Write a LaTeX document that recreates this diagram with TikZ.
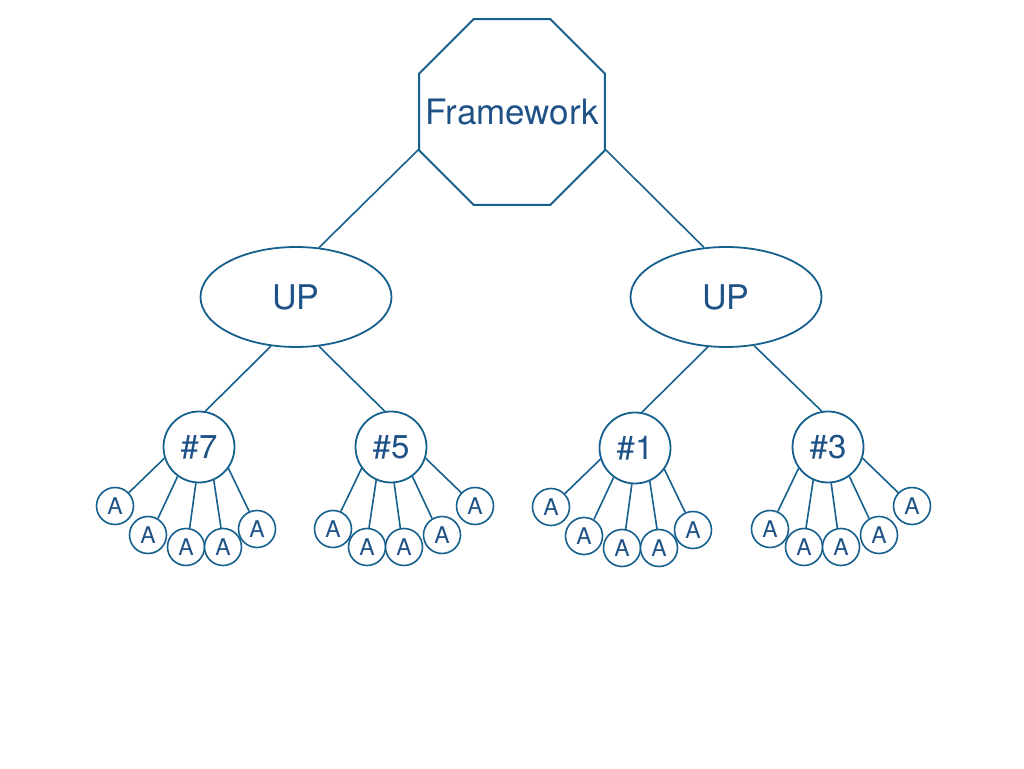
\documentclass[tikz,border=0pt]{standalone}
\usepackage{fontspec}
\setmainfont{TeX Gyre Heros}
\usepackage{tikz}
\usetikzlibrary{shapes.geometric}
\definecolor{edgeblue}{RGB}{22,96,142}
\definecolor{textblue}{RGB}{30,82,135}

\begin{document}
\begin{tikzpicture}[x=1pt,y=1pt,
  link/.style={draw=edgeblue,line width=1.6pt},
  octa/.style={regular polygon,regular polygon sides=8,draw=edgeblue,line width=2pt,
    inner sep=0pt,minimum size=201pt},
  upnode/.style={ellipse,draw=edgeblue,line width=1.8pt,inner sep=0pt,
    minimum width=191pt,minimum height=100pt,text=textblue,font=\fontsize{34}{40}\selectfont},
  hub/.style={circle,draw=edgeblue,fill=white,line width=1.8pt,inner sep=0pt,
    minimum size=71pt,text=textblue,font=\fontsize{33}{40}\selectfont},
  leaf/.style={circle,draw=edgeblue,fill=white,line width=1.6pt,inner sep=0pt,
    minimum size=37pt,text=textblue,font=\fontsize{23}{28}\selectfont}]
\useasboundingbox (0,0) rectangle (1024,768);
\node[octa,label={[text=textblue,font=\fontsize{35}{40}\selectfont]center:Framework}] (fw) at (512,656) {};
\node[upnode] (upl) at (296,471) {UP};
\node[upnode] (upr) at (726,471) {UP};
\node[hub] (h7) at (199,321) {\#7};
\node[hub] (h5) at (391,321) {\#5};
\node[hub] (h1) at (635,320) {\#1};
\node[hub] (h3) at (828,321) {\#3};
\path[link]
(fw.202.5) edge (upl.65)
(fw.-22.5) edge (upr.114)
(upl.243) edge (h7.80)
(upl.295) edge (h5.100)
(upr.250) edge (h1.79)
(upr.300) edge (h3.100);
% fans of A leaves
\foreach \hub in {h7,h1}{
  \foreach \i/\dx/\dy/\ha/\la in {1/-84/-59/198/44,2/-51/-88/234/59,3/-13/-100/265/79,
      4/24/-100/294/96,5/58/-82/324/114}{
    \node[leaf] (\hub-\i) at ([shift={(\dx,\dy)}]\hub) {A};
    \draw[link] (\hub.\ha) -- (\hub-\i.\la);
  }}
\foreach \hub in {h5,h3}{
  \foreach \i/\dx/\dy/\ha/\la in {1/-58/-82/216/66,2/-24/-100/246/84,3/13/-100/275/101,
      4/51/-88/306/121,5/84/-59/342/136}{
    \node[leaf] (\hub-\i) at ([shift={(\dx,\dy)}]\hub) {A};
    \draw[link] (\hub.\ha) -- (\hub-\i.\la);
  }}
\end{tikzpicture}
\end{document}
